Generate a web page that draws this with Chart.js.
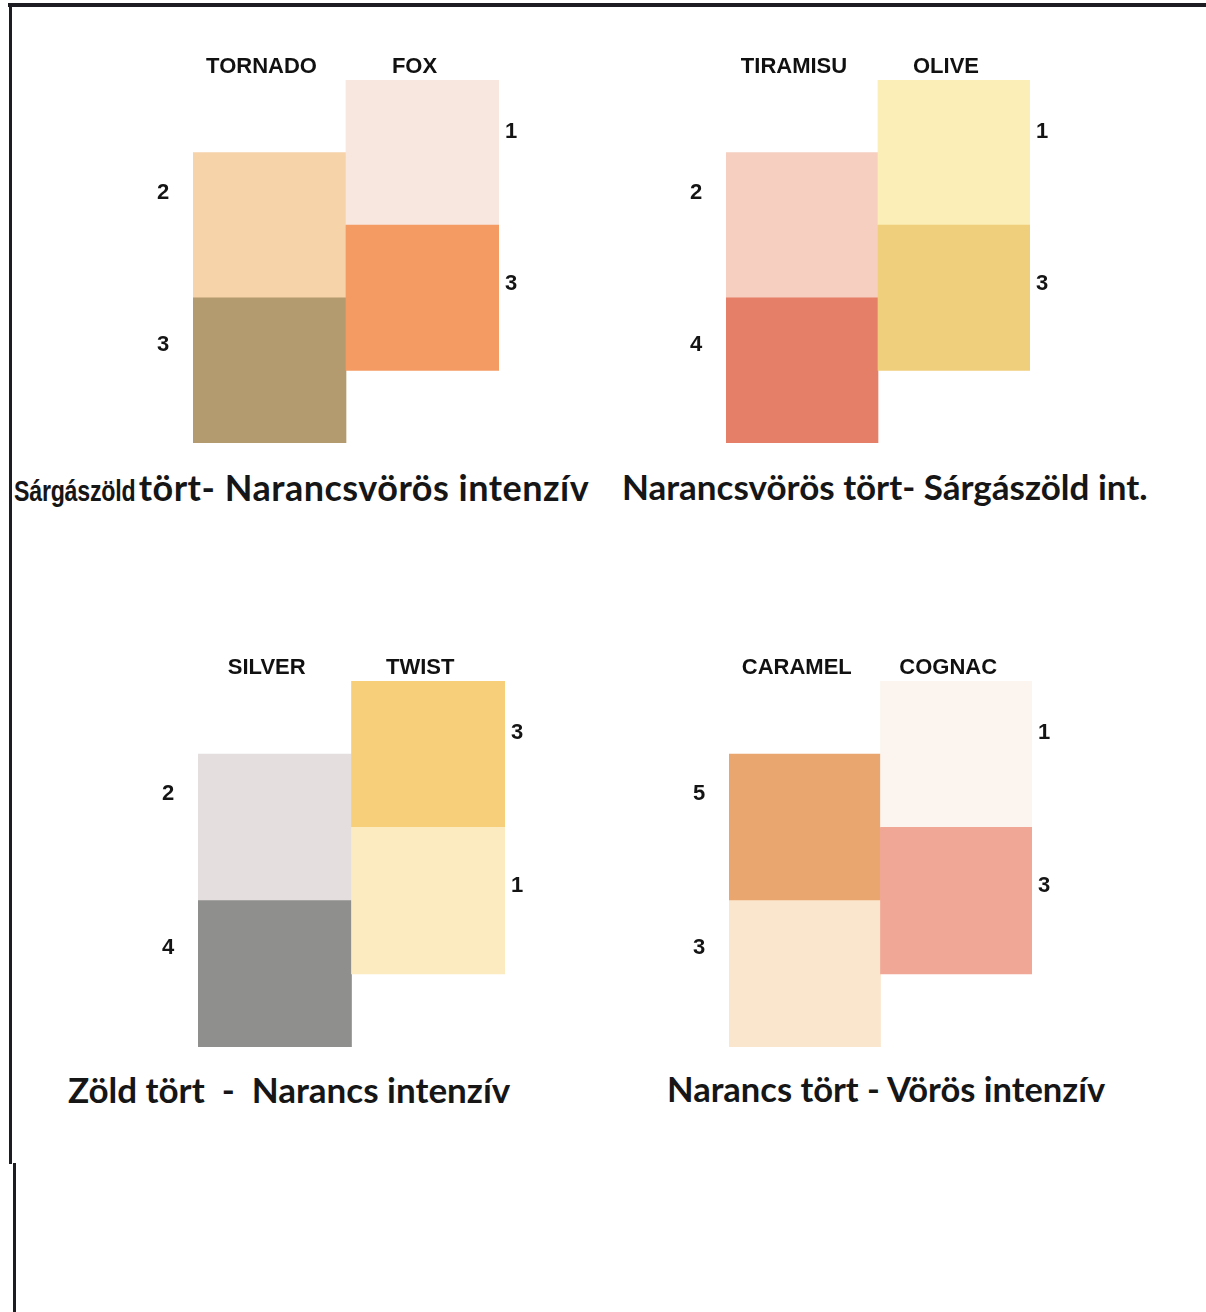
<!DOCTYPE html>
<html>
<head>
<meta charset="utf-8">
<script src="https://cdn.jsdelivr.net/npm/chart.js@4.4.1/dist/chart.umd.min.js"></script>
<style>
  html, body { margin: 0; padding: 0; background: #fff; }
  body { width: 1206px; height: 1312px; position: relative; overflow: hidden; }
  .line { position: absolute; background: #1c1c22; }
  canvas { position: absolute; }
  .caption {
    position: absolute; white-space: pre; line-height: 1;
    font-family: Lato, "Open Sans", sans-serif; font-weight: 700; font-size: 35px; color: #161616;
  }
  .narrow {
    display: inline-block; transform: scaleX(0.8); transform-origin: 0 50%; margin-right: -27px;
    font-family: "Liberation Sans", Arial, sans-serif; font-size: 29px; letter-spacing: -0.3px;
  }
</style>
</head>
<body>
<div class="line" style="left:8px;top:3px;width:1198px;height:4px"></div>
<div class="line" style="left:9px;top:3px;width:3px;height:1161px"></div>
<div class="line" style="left:13px;top:1163px;width:3px;height:149px"></div>

<canvas id="panel0" width="446" height="423" style="left:123px;top:30px"></canvas>
<canvas id="panel1" width="444" height="423" style="left:656px;top:30px"></canvas>
<canvas id="panel2" width="447" height="426" style="left:128px;top:631px"></canvas>
<canvas id="panel3" width="443" height="426" style="left:659px;top:631px"></canvas>

<div class="caption" style="left:14px;top:469px;font-size:36px;letter-spacing:0.5px"><span class="narrow">Sárgászöld</span>tört- Narancsvörös intenzív</div>
<div class="caption" style="left:622px;top:469px">Narancsvörös tört- Sárgászöld int.</div>
<div class="caption" style="left:68px;top:1072px">Zöld tört  -  Narancs intenzív</div>
<div class="caption" style="left:667px;top:1072px;font-size:34.5px">Narancs tört - Vörös intenzív</div>

<script>
// colour names per panel (left column, right column)
const columnNames = [
    ['TORNADO', 'FOX'],
    ['TIRAMISU', 'OLIVE'],
    ['SILVER', 'TWIST'],
    ['CARAMEL', 'COGNAC']
];
// scores written next to each block
const upperScores = [[2, 1], [2, 1], [2, 3], [5, 1]];
const lowerScores = [[3, 3], [4, 3], [4, 1], [3, 3]];
// swatch colours
const upperColors = [
    ['#f6d3a9', '#f8e7de'],
    ['#f6cfc0', '#fbeeb6'],
    ['#e4dfde', '#f7cf7b'],
    ['#e9a66f', '#fcf5ef']
];
const lowerColors = [
    ['#b49a6f', '#f49b64'],
    ['#e57f67', '#f0cf7c'],
    ['#8f8f8d', '#fcebc1'],
    ['#fae6cc', '#f1a796']
];
// the right column starts half a block higher
const columnBase = [0, 0.5];

const scoreLabels = {
    id: 'scoreLabels',
    afterDatasetsDraw(chart) {
        const ctx = chart.ctx;
        ctx.save();
        ctx.font = 'bold 22px "Liberation Sans", Arial, sans-serif';
        ctx.fillStyle = '#141414';
        ctx.textAlign = 'center';
        ctx.textBaseline = 'middle';
        chart.data.datasets.forEach(function (ds, d) {
            chart.getDatasetMeta(d).data.forEach(function (bar, i) {
                const left = i === 0;
                const x = left ? bar.x - bar.width / 2 - 30 : bar.x + bar.width / 2 + 12;
                // labels sit a bit lower on the bottom blocks
                const y = bar.y + (left ? 40 : 52) + (d === 0 ? 7 : 0);
                ctx.fillText(String(ds.scores[i]), x, y);
            });
        });
        ctx.restore();
    }
};

function createPanel(p) {
    const ctx = document.getElementById('panel' + p).getContext('2d');
    const lower = columnBase.map(function (b) { return [b, b + 1]; });
    const upper = columnBase.map(function (b) { return [b + 1, b + 2]; });

    new Chart(ctx, {
        type: 'bar',
        data: {
            labels: columnNames[p],
            datasets: [{
                data: lower,
                scores: lowerScores[p],
                backgroundColor: lowerColors[p],
                grouped: false,
                borderWidth: 0,
                categoryPercentage: 1,
                barPercentage: 1
            }, {
                data: upper,
                scores: upperScores[p],
                backgroundColor: upperColors[p],
                grouped: false,
                borderWidth: 0,
                categoryPercentage: 1,
                barPercentage: 1
            }]
        },
        options: {
            responsive: false,
            animation: false,
            layout: { padding: { left: 70, right: 70, top: 10, bottom: 10 } },
            scales: {
                x: {
                    position: 'top',
                    grid: { display: false },
                    border: { display: false },
                    ticks: {
                        color: '#111',
                        padding: -8,
                        labelOffset: -8,
                        font: { family: '"Liberation Sans", Arial, sans-serif', size: 22, weight: 'bold' }
                    },
                    afterFit: function (axis) { axis.height = 40; }
                },
                y: { display: false, min: 0, max: 2.5 }
            },
            plugins: {
                legend: { display: false },
                tooltip: { enabled: false }
            }
        },
        plugins: [scoreLabels]
    });
}

for (let p = 0; p < columnNames.length; p++) {
    createPanel(p);
}
</script>
</body>
</html>
